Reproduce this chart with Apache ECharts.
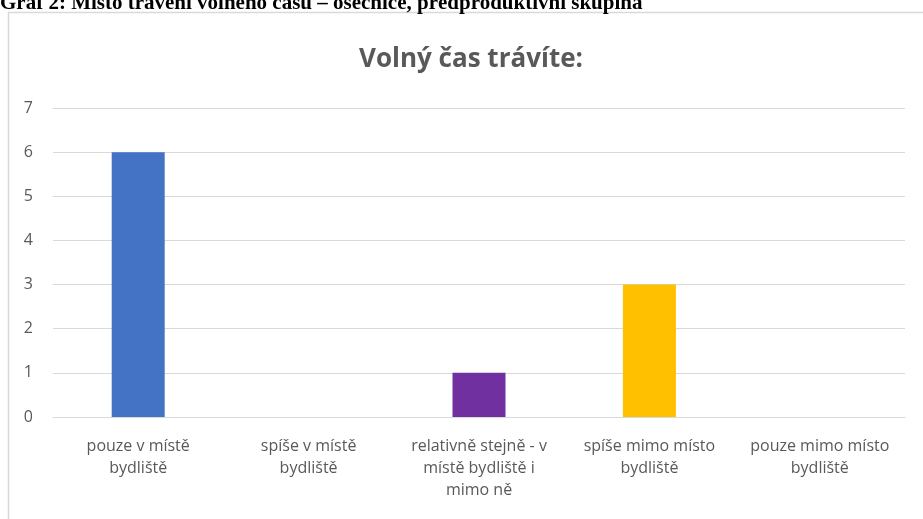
<!DOCTYPE html>
<html>
<head>
<meta charset="utf-8">
<script src="https://cdn.jsdelivr.net/npm/echarts@6/dist/echarts.min.js"></script>
<style>
  html, body { margin: 0; padding: 0; background: #fff; }
  #chart { width: 923px; height: 519px; }
</style>
</head>
<body>
<div id="chart"></div>
<script>
// data
const categories = [
  "pouze v místě\nbydliště",
  "spíše v místě\nbydliště",
  "relativně stejně - v\nmístě bydliště i\nmimo ně",
  "spíše mimo místo\nbydliště",
  "pouze mimo místo\nbydliště"
];
const counts = [6, 0, 1, 3, 0];
const barColors = ["#4472C4", "#ED7D31", "#7030A0", "#FFC000", "#A5A5A5"];
const captionText = "Graf 2: Místo trávení volného času – osečnice, předproduktivní skupina";
const chartTitle = "Volný čas trávíte:";

const chart = echarts.init(document.getElementById("chart"));

const font = "'Open Sans', 'DejaVu Sans', sans-serif";

chart.setOption({
  backgroundColor: "#fff",
  animation: false,
  title: {
    text: chartTitle,
    left: 466,
    textAlign: "center",
    top: 42,
    textStyle: { fontFamily: font, fontSize: 26, fontWeight: "bold", color: "#595959" }
  },
  graphic: [
    {
      type: "rect",
      shape: { x: 8.5, y: 12.5, width: 1000, height: 600 },
      style: { fill: "none", stroke: "#d9d9d9", lineWidth: 1.5 },
      silent: true
    },
    {
      type: "text",
      left: 0,
      top: -7,
      style: {
        text: captionText,
        font: "bold 21px 'Liberation Serif', 'Times New Roman', serif",
        fill: "#000"
      },
      silent: true
    }
  ],
  grid: { left: 53, right: 18, top: 108, bottom: 102 },
  xAxis: {
    type: "category",
    data: categories,
    axisLine: { lineStyle: { color: "#d9d9d9", width: 1 } },
    axisTick: { show: false },
    axisLabel: {
      interval: 0,
      margin: 18,
      color: "#595959",
      fontFamily: font,
      fontSize: 16,
      lineHeight: 22
    }
  },
  yAxis: {
    type: "value",
    min: 0,
    max: 7,
    interval: 1,
    axisLine: { show: false },
    axisTick: { show: false },
    axisLabel: { color: "#595959", fontFamily: font, fontSize: 16, margin: 20 },
    splitLine: { lineStyle: { color: "#d9d9d9", width: 1 } }
  },
  series: [{
    type: "bar",
    barWidth: 53,
    data: counts.map((v, i) => ({ value: v, itemStyle: { color: barColors[i] } }))
  }]
});
</script>
</body>
</html>
